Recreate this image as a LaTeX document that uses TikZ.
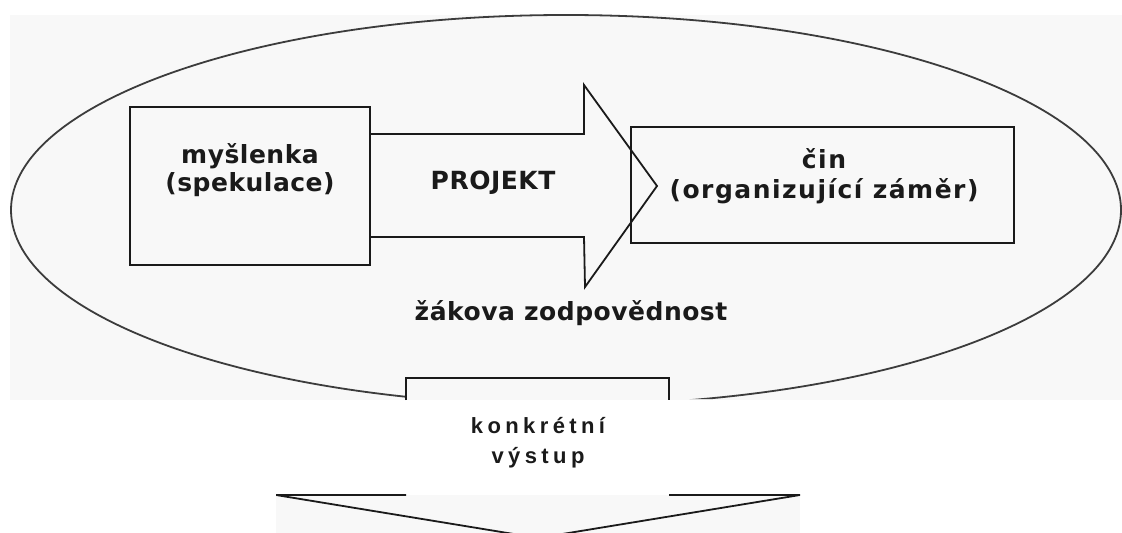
\documentclass[tikz,border=0pt]{standalone}
\usepackage{fontspec}
\setmainfont{DejaVu Sans}[LetterSpace=2]
\newfontfamily\wideins{DejaVu Sans}[LetterSpace=6]
\newfontfamily\outfont{Liberation Sans}[LetterSpace=20]
\definecolor{scan}{HTML}{F8F8F8}
\definecolor{ink}{HTML}{1A1A1A}

\begin{document}
\begin{tikzpicture}[x=0.5pt, y=-0.5pt,
    every node/.style={font=\bfseries\fontsize{12.5}{14}\selectfont, text=ink},
    card/.style={rectangle, draw=ink, line width=0.9pt, inner sep=0pt},
    block/.style={draw=ink, line width=0.9pt}]
\useasboundingbox (0,0) rectangle (1122,533);
% scanned page
\fill[scan] (10,15) rectangle (1122,400);
\fill[scan] (276,495) rectangle (800,533);

\begin{scope}
\clip (0,0) -- (1122,0) -- (1122,399) -- (669,399) -- (669,378) -- (406,378) -- (406,399) -- (0,399) -- cycle;
\draw[ink!85, line width=0.9pt] (566,210) ellipse [x radius=555, y radius=195];
\end{scope}

\node[card, minimum width=120pt, minimum height=79pt] (idea) at (250,186) {};
\node[align=center] (ideatxt) at (250,170) {myšlenka\\(spekulace)};

\node[card, minimum width=191.5pt, minimum height=58pt] (deed) at (822.5,185) {};
\node[align=center, font=\wideins\bfseries\fontsize{12.5}{15}\selectfont] (deedtxt) at (824,176) {čin\\(organizující záměr)};

% PROJEKT arrow
\draw[block] (370,134) -- (584,134) -- (584,85) -- (657,186) -- (585,287) -- (584,237) -- (370,237);
\node (proj) at (493,183) {PROJEKT};
\node[anchor=base] (resp) at (571,321) {žákova zodpovědnost};

% down arrow
\draw[block] (406,400) -- (406,378) -- (669,378) -- (669,400);
\node[font=\outfont\bfseries\fontsize{11}{15}\selectfont, align=center] (out) at (538,443) {konkrétní\\výstup};
\begin{scope}
\clip (276,494) rectangle (800,533);
\draw[block] (406,495) -- (276,495) -- (538,538) -- (800,495) -- (669,495);
\end{scope}
\end{tikzpicture}
\end{document}
